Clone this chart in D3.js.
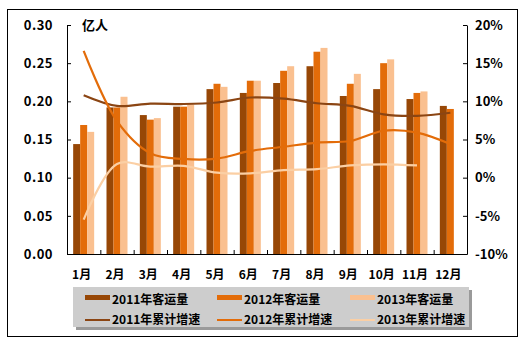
<!DOCTYPE html>
<html><head><meta charset="utf-8">
<script src="https://cdn.jsdelivr.net/npm/d3@7"></script>
<style>
body{margin:0;background:#fff;}
text{font-family:"Noto Sans CJK SC","Noto Sans",sans-serif;font-weight:bold;fill:#000;}
</style></head>
<body><svg id="c" width="524" height="343"></svg>
<script>
const months = ["1月","2月","3月","4月","5月","6月","7月","8月","9月","10月","11月","12月"];
const leftTicks = [0,0.05,0.10,0.15,0.20,0.25,0.30];
const rightTicks = [-10,-5,0,5,10,15,20];
const bar2011 = [0.144,0.192,0.182,0.193,0.216,0.211,0.224,0.246,0.207,0.216,0.203,0.194];
const bar2012 = [0.169,0.192,0.176,0.193,0.223,0.227,0.240,0.265,0.223,0.250,0.211,0.190];
const bar2013 = [0.160,0.206,0.178,0.196,0.219,0.227,0.246,0.270,0.236,0.255,0.213,null];
const grow2011 = [10.8,9.4,9.7,9.65,9.85,10.5,10.35,9.75,9.4,8.3,8.1,8.5];
const grow2012 = [16.6,7.4,3.2,2.45,2.5,3.5,4.05,4.6,4.8,6.15,5.9,4.4];
const grow2013 = [-5.5,1.8,1.45,1.55,0.65,0.57,1.0,1.13,1.6,1.75,1.6,null];
const barNames = ["2011年客运量","2012年客运量","2013年客运量"];
const lineNames = ["2011年累计增速","2012年累计增速","2013年累计增速"];
const barColors = ["#974706","#E36C09","#FAC090"];
const lineColors = ["#8B4513","#E36C09","#FBCFA4"];

const svg = d3.select("#c");
const L=67,R=467,T=25,B=254;
svg.append("rect").attr("x",7.5).attr("y",9.5).attr("width",510).attr("height",327)
  .attr("fill","#fff").attr("stroke","#000").attr("stroke-width",1);

const x0 = d3.scaleBand().domain(months).range([L,R]).paddingInner(0.37).paddingOuter(0.185);
const x1 = d3.scaleBand().domain([0,1,2]).range([0,x0.bandwidth()]);
const yL = d3.scaleLinear().domain([0,0.30]).range([B,T]);
const yR = d3.scaleLinear().domain([-10,20]).range([B,T]);

const bars=[bar2011,bar2012,bar2013];
bars.forEach((s,si)=>{
  svg.append("g").selectAll("rect").data(months.map((m,i)=>({m,v:s[i]})).filter(d=>d.v!=null))
   .join("rect")
   .attr("x",d=>x0(d.m)+x1(si)).attr("width",x1.bandwidth())
   .attr("y",d=>yL(d.v)).attr("height",d=>B-yL(d.v))
   .attr("fill",barColors[si]);
});

const cx = m => x0(m)+x0.bandwidth()/2;
[grow2011,grow2012,grow2013].forEach((s,si)=>{
  const pts = months.map((m,i)=>({m,v:s[i]})).filter(d=>d.v!=null);
  svg.append("path").datum(pts)
    .attr("d",d3.line().x(d=>cx(d.m)).y(d=>yR(d.v)).curve(d3.curveCatmullRom.alpha(0.5)))
    .attr("fill","none").attr("stroke",lineColors[si]).attr("stroke-width",2.2);
});

// axes
const axL = d3.axisLeft(yL).tickValues(leftTicks).tickSizeInner(-4).tickSizeOuter(0).tickFormat(d3.format(".2f"));
const gL = svg.append("g").attr("transform",`translate(${L},0)`).call(axL);
gL.selectAll("text").attr("x",-14).style("font-size","13px").style("letter-spacing","0.5px");
const axR = d3.axisRight(yR).tickValues(rightTicks).tickSizeInner(-4).tickSizeOuter(0).tickFormat(d=>d+"%");
const gR = svg.append("g").attr("transform",`translate(${R},0)`).call(axR);
gR.selectAll("text").attr("x",8).style("font-size","13px");
const xB = d3.scaleLinear().domain([0,12]).range([L,R]);
const axB = d3.axisBottom(xB).tickValues(d3.range(0,13)).tickSizeInner(-4).tickSizeOuter(0).tickFormat("");
svg.append("g").attr("transform",`translate(0,${B})`).call(axB);
svg.selectAll(".domain").attr("stroke","#000");
svg.selectAll(".tick line").attr("stroke","#000");
svg.selectAll(".tick text").attr("font-family",null);

svg.append("g").selectAll("text").data(months).join("text")
  .attr("x",d=>cx(d)-2).attr("y",279).attr("text-anchor","middle").style("font-size","12px").text(d=>d);

svg.append("text").attr("x",82).attr("y",30).style("font-size","13px").text("亿人");

// legend
svg.append("rect").attr("x",76).attr("y",290).attr("width",396).attr("height",40).attr("fill","#9a9a9a");
svg.append("rect").attr("x",73).attr("y",287).attr("width",396).attr("height",40).attr("fill","#cdcdcd");
const colX=[85,217,350];
barNames.forEach((n,i)=>{
  svg.append("rect").attr("x",colX[i]).attr("y",295).attr("width",25).attr("height",5).attr("fill",barColors[i]);
  svg.append("text").attr("x",colX[i]+27).attr("y",304).style("font-size","12px").text(n);
});
lineNames.forEach((n,i)=>{
  svg.append("line").attr("x1",colX[i]).attr("x2",colX[i]+25).attr("y1",320).attr("y2",320)
    .attr("stroke",lineColors[i]).attr("stroke-width",2);
  svg.append("text").attr("x",colX[i]+27).attr("y",324).style("font-size","12px").text(n);
});
</script></body></html>
